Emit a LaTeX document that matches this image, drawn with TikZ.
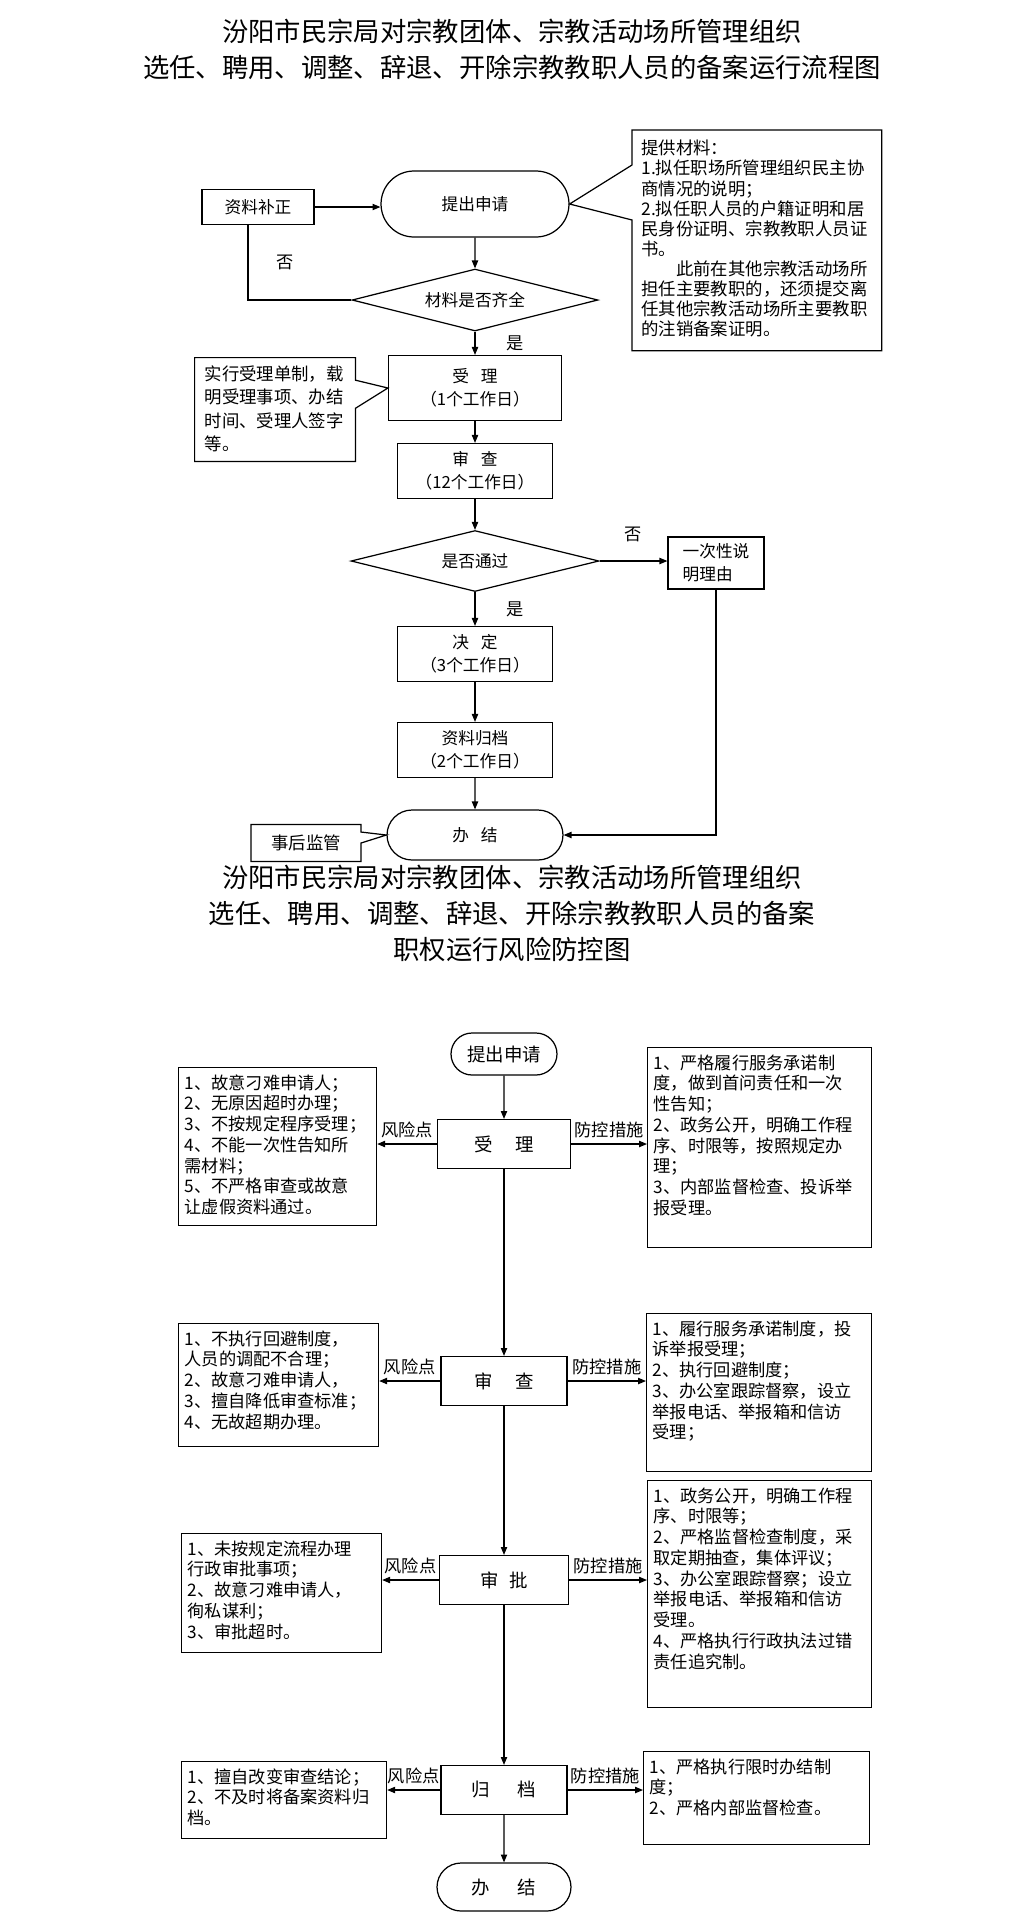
\documentclass[tikz,border=0pt]{standalone}
\usepackage{fontspec}
\setmainfont{Noto Sans CJK SC}
\usetikzlibrary{shapes.geometric,shapes.misc,shapes.callouts,arrows.meta}

\begin{document}
\begin{tikzpicture}[x=0.02cm,y=-0.02cm]
\tikzstyle{every node}=[font=\fontsize{9.8}{11.8}\selectfont]
\tikzstyle{arr}=[-{Triangle[length=4.5pt,width=3.6pt]},line width=0.6pt]
\tikzstyle{flow}=[draw,line width=0.7pt,align=center,inner sep=0pt,font=\fontsize{9.5}{13}\selectfont]
\tikzstyle{stadium}=[flow,rounded rectangle]
\tikzstyle{decide}=[flow,diamond,aspect=4]
\tikzstyle{note}=[draw,line width=0.7pt,rectangle callout,font=\fontsize{9.9}{11.4}\selectfont]
\tikzstyle{stage}=[draw,line width=0.7pt,minimum height=0.98cm,font=\fontsize{10.5}{12}\selectfont]
\tikzstyle{textbox}=[draw,line width=0.7pt,anchor=north west,inner xsep=0.12cm,inner ysep=0.14cm]
\tikzstyle{title}=[align=center,font=\fontsize{15}{20.5}\selectfont]
\useasboundingbox (0,0) rectangle (1022,1931);

\node[title] (title1) at (512,49) {汾阳市民宗局对宗教团体、宗教活动场所管理组织\\选任、聘用、调整、辞退、开除宗教教职人员的备案运行流程图};

\node[stadium,minimum width=3.76cm,minimum height=1.32cm] (apply) at (475,204) {提出申请};
\node[flow,minimum width=2.24cm,minimum height=0.70cm] (buzheng) at (258,207) {资料补正};
\node[anchor=north west,inner xsep=0.18cm,inner ysep=0.2cm,font=\fontsize{9.9}{11.4}\selectfont] (cailiao) at (632,130) {\parbox[t][4.0cm][t]{4.62cm}{提供材料：\\1.拟任职场所管理组织民主协\\商情况的说明；\\2.拟任职人员的户籍证明和居\\民身份证明、宗教教职人员证\\书。\\\hspace*{2em}此前在其他宗教活动场所\\担任主要教职的，还须提交离\\任其他宗教活动场所主要教职\\的注销备案证明。}};
\draw[line width=0.7pt] (cailiao.north west) -- (cailiao.north east) -- (cailiao.south east) -- (cailiao.south west) -- (cailiao.west |- 0,220) -- (apply.east) -- (cailiao.west |- 0,165) -- cycle;
\node[decide,minimum width=4.92cm,minimum height=1.24cm] (d1) at (475,300) {材料是否齐全};
\node[flow,minimum width=3.46cm,minimum height=1.30cm] (shouli) at (475,388) {受\hspace{0.7em}理\\（1个工作日）};
\node[note,anchor=north west,inner xsep=0.2cm,inner ysep=0.16cm,font=\fontsize{9.9}{13.4}\selectfont,callout absolute pointer={(shouli.west)},callout pointer width=0.56cm] (danzhi) at (194,357) {\parbox[t][1.76cm][t]{2.82cm}{实行受理单制，载\\明受理事项、办结\\时间、受理人签字\\等。}};
\node[flow,minimum width=3.10cm,minimum height=1.10cm] (shencha) at (475,471) {审\hspace{0.7em}查\\（12个工作日）};
\node[decide,minimum width=4.96cm,minimum height=1.22cm] (d2) at (475,561) {是否通过};
\node[flow,align=left,minimum width=1.92cm,minimum height=1.04cm] (yici) at (716,563) {一次性说\\明理由};
\node[flow,minimum width=3.10cm,minimum height=1.10cm] (jueding) at (475,654) {决\hspace{0.7em}定\\（3个工作日）};
\node[flow,minimum width=3.10cm,minimum height=1.10cm] (guidang) at (475,750) {资料归档\\（2个工作日）};
\node[stadium,minimum width=3.52cm,minimum height=1.00cm] (banjie) at (475,835) {办\hspace{0.7em}结};
\node[note,callout absolute pointer={(banjie.west)},callout pointer width=0.22cm,minimum width=2.20cm,minimum height=0.74cm] (jianguan) at (306,843) {事后监管};

\draw[arr] (buzheng.east) -- (buzheng.east -| apply.west);
\draw[arr] (apply) -- (d1);
\draw[line width=0.6pt] (d1.west) -| ([xshift=-0.2cm]buzheng.south) node[pos=0.75,right=0.45cm]{否};
\draw[arr] (d1) -- (shouli) node[midway,right=0.5cm]{是};
\draw[arr] (shouli) -- (shencha);
\draw[arr] (shencha) -- (d2);
\draw[arr] (d2.east) -- (d2.east -| yici.west) node[midway,above=0.25cm]{否};
\draw[arr] (d2) -- (jueding) node[midway,right=0.5cm]{是};
\draw[arr] (jueding) -- (guidang);
\draw[arr] (guidang) -- (banjie);
\draw[arr] (yici) |- (banjie);

\node[title] (title2) at (512,913) {汾阳市民宗局对宗教团体、宗教活动场所管理组织\\选任、聘用、调整、辞退、开除宗教教职人员的备案\\职权运行风险防控图};

\node[stadium,minimum width=2.12cm,minimum height=0.84cm,font=\fontsize{10.5}{12}\selectfont] (start) at (504,1054) {提出申请};
\node[stage,minimum width=2.66cm] (accept) at (504,1144) {受\hspace{1.2em}理};
\node[stage,minimum width=2.52cm] (review) at (504,1381) {审\hspace{1.2em}查};
\node[stage,minimum width=2.58cm] (approve) at (504,1580) {审\hspace{0.6em}批};
\node[stage,minimum width=2.52cm] (archive) at (504,1790) {归\hspace{1.5em}档};
\node[stadium,minimum width=2.68cm,minimum height=0.96cm,font=\fontsize{10.5}{12}\selectfont] (finish) at (504,1887) {办\hspace{1.5em}结};

\node[textbox] (risk1) at (178,1067) {\parbox[t][2.88cm][t]{3.72cm}{1、故意刁难申请人；\\2、无原因超时办理；\\3、不按规定程序受理；\\4、不能一次性告知所\\需材料；\\5、不严格审查或故意\\让虚假资料通过。}};
\node[textbox] (ctrl1) at (647,1047) {\parbox[t][3.72cm][t]{4.24cm}{1、严格履行服务承诺制\\度，做到首问责任和一次\\性告知；\\2、政务公开，明确工作程\\序、时限等，按照规定办\\理；\\3、内部监督检查、投诉举\\报受理。}};
\node[textbox] (risk2) at (178,1323) {\parbox[t][2.18cm][t]{3.76cm}{1、不执行回避制度，\\人员的调配不合理；\\2、故意刁难申请人，\\3、擅自降低审查标准；\\4、无故超期办理。}};
\node[textbox] (ctrl2) at (646,1313) {\parbox[t][2.88cm][t]{4.26cm}{1、履行服务承诺制度，投\\诉举报受理；\\2、执行回避制度；\\3、办公室跟踪督察，设立\\举报电话、举报箱和信访\\受理；}};
\node[textbox] (risk3) at (181,1533) {\parbox[t][2.10cm][t]{3.76cm}{1、未按规定流程办理\\行政审批事项；\\2、故意刁难申请人，\\徇私谋利；\\3、审批超时。}};
\node[textbox] (ctrl3) at (647,1480) {\parbox[t][4.26cm][t]{4.24cm}{1、政务公开，明确工作程\\序、时限等；\\2、严格监督检查制度，采\\取定期抽查，集体评议；\\3、办公室跟踪督察；设立\\举报电话、举报箱和信访\\受理。\\4、严格执行行政执法过错\\责任追究制。}};
\node[textbox] (risk4) at (181,1761) {\parbox[t][1.26cm][t]{3.86cm}{1、擅自改变审查结论；\\2、不及时将备案资料归\\档。}};
\node[textbox] (ctrl4) at (643,1751) {\parbox[t][1.58cm][t]{4.28cm}{1、严格执行限时办结制\\度；\\2、严格内部监督检查。}};

\draw[arr] (start) -- (accept);
\draw[arr] (accept) -- (review);
\draw[arr] (review) -- (approve);
\draw[arr] (approve) -- (archive);
\draw[arr] (archive) -- (finish);
\draw[arr] (accept.west) -- (accept.west -| risk1.east) node[midway,above]{风险点};
\draw[arr] (accept.east) -- (accept.east -| ctrl1.west) node[midway,above]{防控措施};
\draw[arr] (review.west) -- (review.west -| risk2.east) node[midway,above]{风险点};
\draw[arr] (review.east) -- (review.east -| ctrl2.west) node[midway,above]{防控措施};
\draw[arr] (approve.west) -- (approve.west -| risk3.east) node[midway,above]{风险点};
\draw[arr] (approve.east) -- (approve.east -| ctrl3.west) node[midway,above]{防控措施};
\draw[arr] (archive.west) -- (archive.west -| risk4.east) node[midway,above]{风险点};
\draw[arr] (archive.east) -- (archive.east -| ctrl4.west) node[midway,above]{防控措施};
\end{tikzpicture}
\end{document}
